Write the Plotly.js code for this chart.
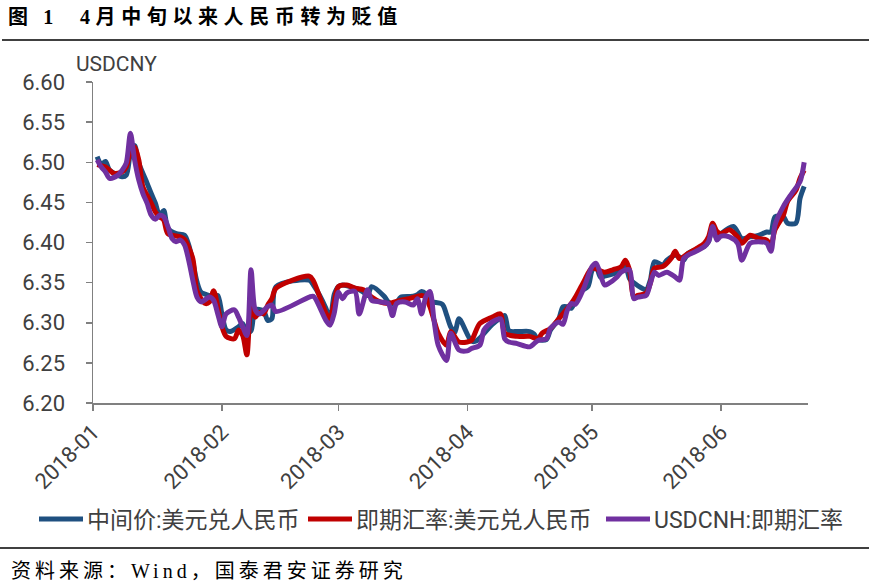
<!DOCTYPE html>
<html>
<head>
<meta charset="utf-8">
<script src="https://cdn.plot.ly/plotly-3.0.1.min.js"></script>
<style>
  html, body { margin: 0; padding: 0; background: #fff; }
  #chart { width: 869px; height: 585px; }
</style>
</head>
<body>
<div id="chart"></div>
<script>
// ---- data ----
const seriesNames = ['中间价:美元兑人民币', '即期汇率:美元兑人民币', 'USDCNH:即期汇率'];

const midDates = ['2018-01-02','2018-01-03','2018-01-04','2018-01-05','2018-01-08','2018-01-09','2018-01-10','2018-01-11','2018-01-12','2018-01-14','2018-01-15','2018-01-16','2018-01-17','2018-01-18','2018-01-19','2018-01-21','2018-01-23','2018-01-24','2018-01-25','2018-01-26','2018-01-27','2018-01-29','2018-01-30','2018-01-31','2018-02-01','2018-02-02','2018-02-03','2018-02-05','2018-02-06','2018-02-07','2018-02-08','2018-02-09','2018-02-11','2018-02-12','2018-02-13','2018-02-14','2018-02-22','2018-02-23','2018-02-26','2018-02-27','2018-02-28','2018-03-01','2018-03-02','2018-03-05','2018-03-06','2018-03-07','2018-03-08','2018-03-09','2018-03-12','2018-03-13','2018-03-14','2018-03-15','2018-03-16','2018-03-19','2018-03-20','2018-03-21','2018-03-22','2018-03-23','2018-03-26','2018-03-27','2018-03-28','2018-03-29','2018-03-30','2018-04-02','2018-04-03','2018-04-04','2018-04-07','2018-04-09','2018-04-10','2018-04-11','2018-04-13','2018-04-16','2018-04-17','2018-04-18','2018-04-20','2018-04-21','2018-04-23','2018-04-24','2018-04-25','2018-04-26','2018-04-28','2018-04-30','2018-05-01','2018-05-02','2018-05-03','2018-05-04','2018-05-07','2018-05-09','2018-05-10','2018-05-11','2018-05-13','2018-05-14','2018-05-15','2018-05-16','2018-05-18','2018-05-19','2018-05-21','2018-05-22','2018-05-23','2018-05-24','2018-05-26','2018-05-28','2018-05-29','2018-05-30','2018-05-31','2018-06-01','2018-06-04','2018-06-06','2018-06-08','2018-06-10','2018-06-12','2018-06-13','2018-06-14','2018-06-16','2018-06-17','2018-06-19','2018-06-20','2018-06-21'];
const midValues = [6.507,6.497,6.501,6.490,6.482,6.484,6.511,6.521,6.499,6.474,6.461,6.449,6.434,6.440,6.418,6.411,6.409,6.397,6.376,6.351,6.338,6.334,6.332,6.334,6.311,6.291,6.289,6.295,6.299,6.287,6.290,6.316,6.315,6.303,6.305,6.345,6.353,6.347,6.318,6.304,6.335,6.345,6.347,6.343,6.341,6.338,6.334,6.345,6.333,6.326,6.323,6.325,6.332,6.333,6.335,6.339,6.336,6.327,6.323,6.310,6.295,6.288,6.305,6.277,6.277,6.281,6.298,6.306,6.309,6.290,6.289,6.289,6.286,6.279,6.279,6.291,6.305,6.320,6.320,6.318,6.338,6.345,6.365,6.370,6.357,6.358,6.363,6.370,6.355,6.350,6.343,6.341,6.353,6.376,6.372,6.378,6.384,6.382,6.378,6.386,6.391,6.395,6.401,6.420,6.405,6.411,6.420,6.405,6.407,6.409,6.413,6.413,6.432,6.432,6.424,6.424,6.455,6.470];

const spotDates = ['2018-01-02','2018-01-04','2018-01-05','2018-01-06','2018-01-08','2018-01-09','2018-01-10','2018-01-11','2018-01-12','2018-01-13','2018-01-14','2018-01-15','2018-01-16','2018-01-17','2018-01-18','2018-01-19','2018-01-22','2018-01-23','2018-01-25','2018-01-26','2018-01-28','2018-01-29','2018-01-30','2018-01-31','2018-02-01','2018-02-02','2018-02-04','2018-02-05','2018-02-06','2018-02-07','2018-02-08','2018-02-09','2018-02-10','2018-02-11','2018-02-12','2018-02-13','2018-02-14','2018-02-22','2018-02-23','2018-02-26','2018-02-27','2018-02-28','2018-03-01','2018-03-03','2018-03-05','2018-03-07','2018-03-09','2018-03-11','2018-03-13','2018-03-16','2018-03-18','2018-03-21','2018-03-22','2018-03-23','2018-03-24','2018-03-25','2018-03-27','2018-03-28','2018-03-30','2018-04-01','2018-04-02','2018-04-04','2018-04-07','2018-04-09','2018-04-10','2018-04-13','2018-04-16','2018-04-18','2018-04-19','2018-04-21','2018-04-23','2018-04-26','2018-04-27','2018-04-29','2018-05-01','2018-05-04','2018-05-06','2018-05-08','2018-05-09','2018-05-10','2018-05-11','2018-05-12','2018-05-14','2018-05-15','2018-05-16','2018-05-18','2018-05-20','2018-05-21','2018-05-22','2018-05-24','2018-05-26','2018-05-28','2018-05-29','2018-05-30','2018-05-31','2018-06-01','2018-06-03','2018-06-05','2018-06-06','2018-06-08','2018-06-10','2018-06-12','2018-06-13','2018-06-14','2018-06-16','2018-06-17','2018-06-19','2018-06-20','2018-06-21'];
const spotValues = [6.497,6.494,6.490,6.486,6.488,6.494,6.513,6.519,6.503,6.469,6.459,6.449,6.438,6.432,6.428,6.411,6.407,6.404,6.380,6.340,6.324,6.326,6.340,6.320,6.295,6.283,6.280,6.291,6.284,6.260,6.318,6.307,6.313,6.311,6.322,6.330,6.343,6.358,6.352,6.312,6.305,6.326,6.345,6.347,6.343,6.341,6.332,6.326,6.324,6.328,6.330,6.334,6.332,6.320,6.303,6.287,6.272,6.289,6.276,6.276,6.278,6.299,6.307,6.311,6.287,6.283,6.283,6.280,6.287,6.293,6.305,6.324,6.332,6.351,6.368,6.363,6.366,6.370,6.378,6.366,6.332,6.334,6.337,6.349,6.368,6.370,6.380,6.389,6.380,6.386,6.392,6.399,6.407,6.424,6.414,6.411,6.416,6.407,6.399,6.409,6.405,6.403,6.397,6.416,6.434,6.451,6.465,6.480,6.490];

const cnhDates = ['2018-01-02','2018-01-03','2018-01-04','2018-01-05','2018-01-07','2018-01-08','2018-01-09','2018-01-10','2018-01-11','2018-01-12','2018-01-13','2018-01-14','2018-01-15','2018-01-16','2018-01-17','2018-01-18','2018-01-19','2018-01-20','2018-01-21','2018-01-22','2018-01-23','2018-01-24','2018-01-25','2018-01-26','2018-01-27','2018-01-29','2018-01-30','2018-01-31','2018-02-01','2018-02-02','2018-02-04','2018-02-05','2018-02-06','2018-02-07','2018-02-08','2018-02-09','2018-02-10','2018-02-12','2018-02-13','2018-02-14','2018-02-22','2018-02-23','2018-02-26','2018-02-27','2018-02-28','2018-03-01','2018-03-02','2018-03-03','2018-03-05','2018-03-06','2018-03-08','2018-03-09','2018-03-11','2018-03-13','2018-03-14','2018-03-15','2018-03-17','2018-03-19','2018-03-20','2018-03-21','2018-03-22','2018-03-23','2018-03-24','2018-03-25','2018-03-27','2018-03-28','2018-03-30','2018-04-01','2018-04-02','2018-04-04','2018-04-05','2018-04-06','2018-04-07','2018-04-09','2018-04-10','2018-04-11','2018-04-13','2018-04-16','2018-04-18','2018-04-20','2018-04-21','2018-04-23','2018-04-24','2018-04-25','2018-04-26','2018-04-27','2018-04-29','2018-05-01','2018-05-02','2018-05-04','2018-05-05','2018-05-07','2018-05-08','2018-05-10','2018-05-11','2018-05-12','2018-05-14','2018-05-15','2018-05-16','2018-05-17','2018-05-19','2018-05-21','2018-05-22','2018-05-23','2018-05-24','2018-05-26','2018-05-28','2018-05-29','2018-05-30','2018-05-31','2018-06-01','2018-06-03','2018-06-05','2018-06-06','2018-06-08','2018-06-10','2018-06-12','2018-06-13','2018-06-14','2018-06-16','2018-06-18','2018-06-20','2018-06-21'];
const cnhValues = [6.503,6.494,6.488,6.480,6.484,6.490,6.499,6.536,6.503,6.478,6.461,6.449,6.434,6.429,6.434,6.432,6.420,6.405,6.401,6.403,6.397,6.378,6.353,6.332,6.326,6.332,6.328,6.311,6.295,6.311,6.316,6.307,6.295,6.284,6.366,6.316,6.311,6.320,6.322,6.314,6.332,6.333,6.303,6.297,6.312,6.338,6.330,6.337,6.339,6.311,6.341,6.328,6.326,6.324,6.309,6.324,6.326,6.322,6.330,6.311,6.332,6.339,6.303,6.272,6.253,6.287,6.266,6.265,6.268,6.272,6.291,6.297,6.301,6.305,6.280,6.276,6.274,6.270,6.278,6.280,6.293,6.301,6.298,6.315,6.324,6.323,6.343,6.370,6.374,6.347,6.349,6.357,6.363,6.366,6.330,6.332,6.334,6.349,6.363,6.359,6.363,6.357,6.353,6.380,6.384,6.389,6.395,6.401,6.420,6.403,6.408,6.407,6.399,6.378,6.399,6.401,6.399,6.389,6.422,6.445,6.461,6.476,6.500];

const monthTicks = ['2018-01-01','2018-02-01','2018-03-01','2018-04-01','2018-05-01','2018-06-01'];
const monthLabels = ['2018-01','2018-02','2018-03','2018-04','2018-05','2018-06'];
const colors = ['#1F5080', '#C00000', '#7030A0'];

// ---- layout geometry ----
const W = 869, H = 585;
const M = {l: 93, r: 61, t: 82, b: 182};
const PW = W - M.l - M.r, PH = H - M.t - M.b;
const px = x => (x - M.l) / PW;       // page x -> paper x
const py = y => 1 - (y - M.t) / PH;   // page y -> paper y

const lineStyle = (c) => ({color: c, width: 5, shape: 'spline', smoothing: 0.8});

const traces = [
  {x: midDates, y: midValues, name: seriesNames[0], type: 'scatter', mode: 'lines', line: lineStyle(colors[0])},
  {x: spotDates, y: spotValues, name: seriesNames[1], type: 'scatter', mode: 'lines', line: lineStyle(colors[1])},
  {x: cnhDates, y: cnhValues, name: seriesNames[2], type: 'scatter', mode: 'lines', line: lineStyle(colors[2])}
];

const sansLatin = 'Roboto, Noto Sans CJK SC, sans-serif';
const tickFont = {family: sansLatin, size: 22, color: '#404040'};
const serifCjk = 'Liberation Serif, Noto Sans CJK SC, serif';

const layout = {
  width: W, height: H,
  margin: M,
  paper_bgcolor: '#fff', plot_bgcolor: '#fff',
  showlegend: true,
  title: {
    text: '<b>图\u20091\u00a0\u00a04月中旬以来人民币转为贬值</b>',
    font: {family: serifCjk, size: 20, color: '#000'},
    xref: 'container', yref: 'container',
    x: 8 / W, xanchor: 'left', y: 1 - 17 / H, yanchor: 'middle'
  },
  xaxis: {
    type: 'date',
    range: ['2018-01-01', '2018-06-21 22:00'],
    tickmode: 'array', tickvals: monthTicks, ticktext: monthLabels,
    tickangle: -45, ticks: 'outside', ticklen: 6, tickwidth: 1.5, tickcolor: '#808080',
    showline: true, linecolor: '#808080', linewidth: 1.5,
    showgrid: false, zeroline: false,
    tickfont: tickFont
  },
  yaxis: {
    range: [6.2, 6.6], dtick: 0.05, tick0: 6.2, tickformat: '.2f',
    ticks: 'outside', ticklen: 6, tickwidth: 1.5, tickcolor: '#808080',
    showline: true, linecolor: '#808080', linewidth: 1.5,
    showgrid: false, zeroline: false,
    ticklabelstandoff: 16,
    tickfont: tickFont
  },
  legend: {
    orientation: 'h', x: px(34), xanchor: 'left', y: py(519), yanchor: 'middle',
    font: {family: sansLatin, size: 23, color: '#404040'},
    itemwidth: 30, tracegroupgap: 0, bgcolor: 'rgba(0,0,0,0)'
  },
  annotations: [
    {xref: 'paper', yref: 'paper', x: px(74), y: py(64), xanchor: 'left', yanchor: 'middle',
     text: 'USDCNY', showarrow: false, font: {family: sansLatin, size: 21, color: '#404040'}},
    {xref: 'paper', yref: 'paper', x: px(9), y: py(571), xanchor: 'left', yanchor: 'middle',
     text: '资料来源：Wind，国泰君安证券研究', showarrow: false, font: {family: serifCjk, size: 20, color: '#000'}}
  ],
  shapes: [
    {type: 'line', xref: 'paper', yref: 'paper', x0: px(2), x1: px(869), y0: py(40), y1: py(40), line: {color: '#000', width: 1.3}},
    {type: 'line', xref: 'paper', yref: 'paper', x0: px(0), x1: px(869), y0: py(548), y1: py(548), line: {color: '#000', width: 1.3}}
  ]
};

const legendStarts = [39, 308, 606];   // page x where each legend line sample begins

Plotly.newPlot('chart', traces, layout, {staticPlot: true, displayModeBar: false}).then(function (gd) {
  // wider character spacing for the title, as in the reference
  const t = gd.querySelector('.gtitle');
  if (t) t.style.letterSpacing = '5.6px';

  // source line: keep its left edge, widen the character spacing
  const anns = gd.querySelectorAll('.annotation-text');
  const src = anns[1];
  if (src) {
    const bb = src.getBBox();
    src.setAttribute('text-anchor', 'start');
    src.setAttribute('x', bb.x);
    src.style.letterSpacing = '4px';
  }

  // legend: longer line samples and reference spacing
  const leg = gd.querySelector('g.legend');
  if (leg) {
    const m = /translate\(\s*([-\d.]+)[ ,]+([-\d.]+)/.exec(leg.getAttribute('transform') || '');
    const lx = m ? parseFloat(m[1]) : 0;
    const sb = leg.querySelector('.scrollbox');
    if (sb) sb.removeAttribute('clip-path');
    leg.querySelectorAll('g.traces').forEach(function (g, i) {
      const mm = /translate\(\s*([-\d.]+)[ ,]+([-\d.]+)/.exec(g.getAttribute('transform') || '');
      const gy = mm ? parseFloat(mm[2]) : 0;
      g.setAttribute('transform', 'translate(' + (legendStarts[i] - 5 - lx) + ',' + gy + ')');
      const p = g.querySelector('.legendlines path');
      if (p) p.setAttribute('d', 'M5,0h44');
      const tx = g.querySelector('.legendtext');
      if (tx) tx.setAttribute('x', 53);
    });
  }
});
</script>
</body>
</html>
